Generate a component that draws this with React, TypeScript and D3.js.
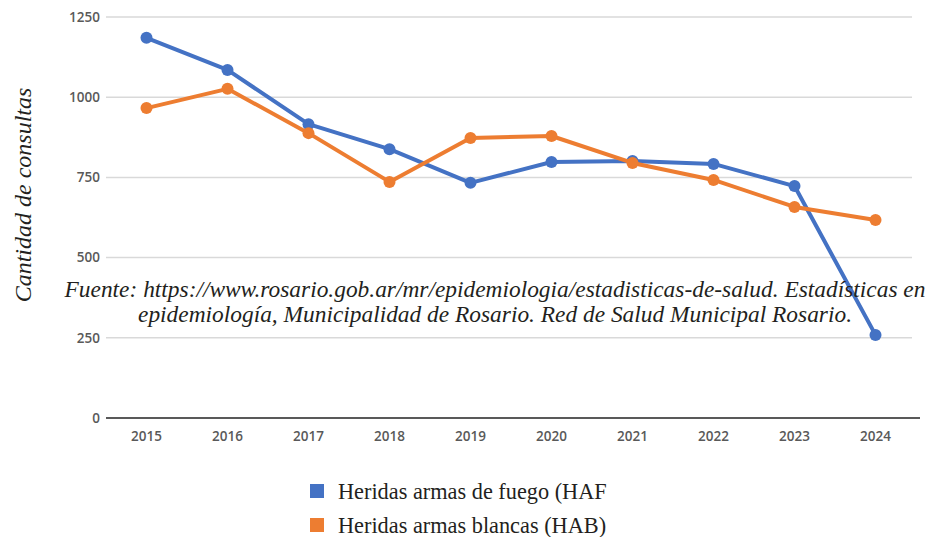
import React from "react";
import * as d3 from "d3";

const years = ["2015","2016","2017","2018","2019","2020","2021","2022","2023","2024"];
const haf = [1185, 1085, 916, 838, 733, 798, 801, 792, 723, 259];
const hab = [966, 1026, 888, 736, 873, 879, 795, 742, 658, 617];
const yTicks = [0, 250, 500, 750, 1000, 1250];
const seriesNames = ["Heridas armas de fuego (HAF", "Heridas armas blancas (HAB)"];
const colors = ["#4472C4", "#ED7D31"];
const yLabel = "Cantidad de consultas";
const sourceLines = [
  "Fuente: https://www.rosario.gob.ar/mr/epidemiologia/estadisticas-de-salud. Estadísticas en",
  "epidemiología, Municipalidad de Rosario. Red de Salud Municipal Rosario.",
];

export default function App() {
  const W = 930, H = 537;
  const x = d3.scaleBand<string>().domain(years).range([106, 916]);
  const y = d3.scaleLinear().domain([0, 1250]).range([418, 17]);
  const cx = (d: string) => (x(d) as number) + x.bandwidth() / 2;
  const line = d3.line<number>().x((_, i) => cx(years[i])).y((v) => y(v));
  const series = [haf, hab];
  return (
    <svg width={W} height={H} style={{ position: "absolute", left: 0, top: 0, background: "#fff" }}>
      {yTicks.map((t) => (
        <g key={t}>
          {t > 0 && <line x1={106} x2={912} y1={y(t)} y2={y(t)} stroke="#d9d9d9" strokeWidth={1.5} />}
          <text x={100} y={y(t)} dy="0.35em" textAnchor="end" fontFamily="'Open Sans', sans-serif" fontSize={13.5} fontWeight={600} fill="#595959">{t}</text>
        </g>
      ))}
      <line x1={106} x2={920} y1={y(0)} y2={y(0)} stroke="#595959" strokeWidth={2} />
      {years.map((yr) => (
        <text key={yr} x={cx(yr)} y={441} textAnchor="middle" fontFamily="'Open Sans', sans-serif" fontSize={13.5} fontWeight={600} fill="#595959">{yr}</text>
      ))}
      {series.map((s, k) => (
        <g key={k}>
          <path d={line(s) as string} fill="none" stroke={colors[k]} strokeWidth={4} strokeLinejoin="round" />
          {s.map((v, i) => (
            <circle key={i} cx={cx(years[i])} cy={y(v)} r={6} fill={colors[k]} />
          ))}
        </g>
      ))}
      <text transform="translate(31,195) rotate(-90)" textAnchor="middle" fontFamily="'Liberation Serif', serif" fontStyle="italic" fontSize={24} fill="#231f20">{yLabel}</text>
      {sourceLines.map((l, i) => (
        <text key={i} x={495} y={297 + i * 25} textAnchor="middle" fontFamily="'Liberation Serif', serif" fontStyle="italic" fontSize={23.4} fill="#231f20">{l}</text>
      ))}
      {seriesNames.map((n, i) => (
        <g key={n}>
          <rect x={310} y={484 + i * 34} width={14} height={14} fill={colors[i]} />
          <text x={338} y={499 + i * 34} fontFamily="'Liberation Serif', serif" fontSize={22.3} fill="#231f20">{n}</text>
        </g>
      ))}
    </svg>
  );
}
